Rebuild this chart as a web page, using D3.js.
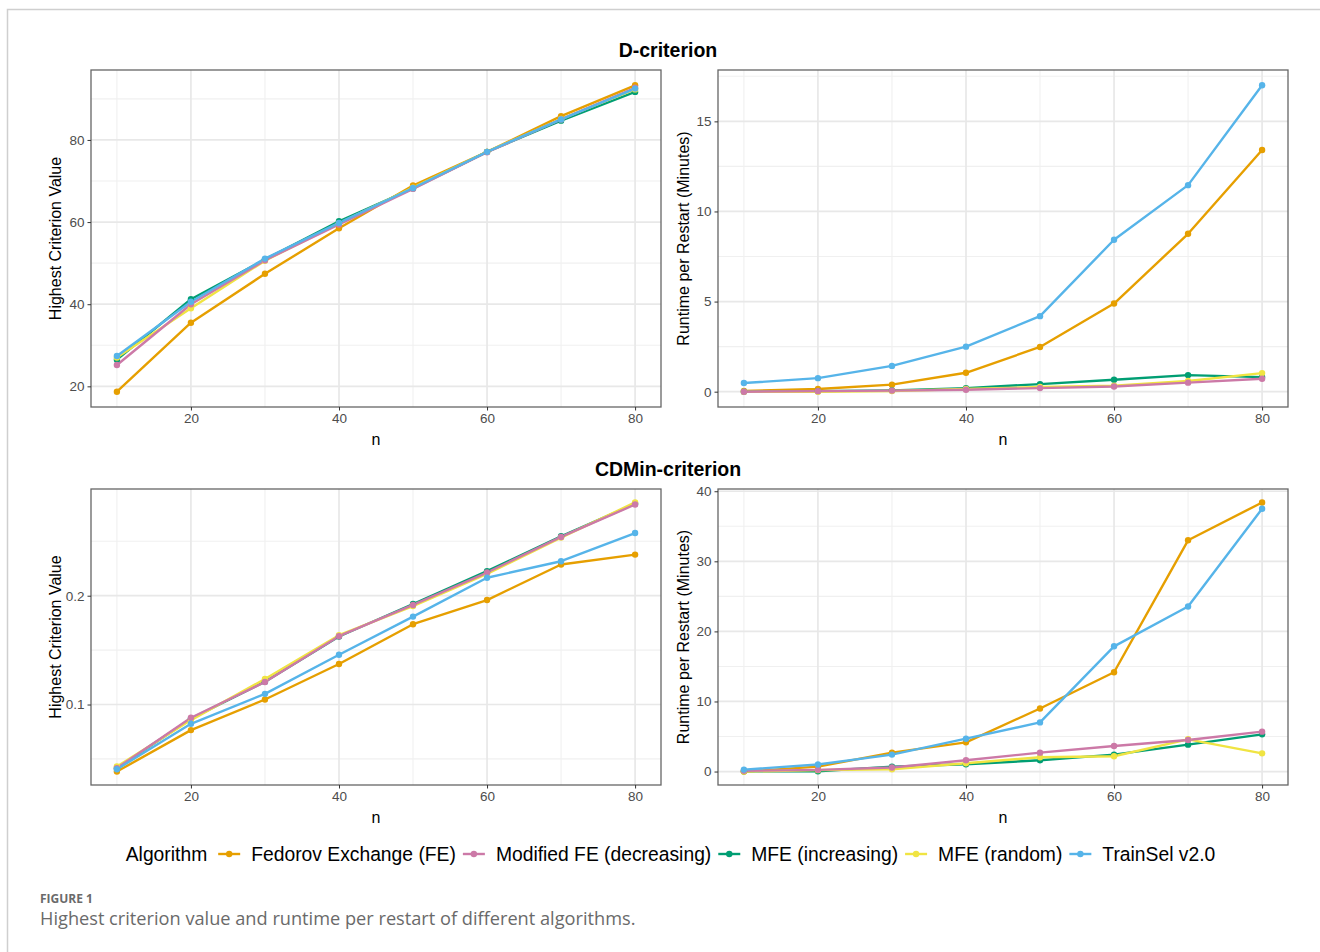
<!DOCTYPE html>
<html>
<head>
<meta charset="utf-8">
<script src="https://cdn.jsdelivr.net/npm/d3@7"></script>
<style>
  html, body { margin: 0; padding: 0; background: #fff; }
  svg { display: block; }
</style>
</head>
<body>
<svg id="chart" width="1320" height="952"></svg>
<script>
// ---------- data ----------
const nValues = [10, 20, 30, 40, 50, 60, 70, 80];
const algorithms = ["Fedorov Exchange (FE)", "Modified FE (decreasing)", "MFE (increasing)", "MFE (random)", "TrainSel v2.0"];
const algorithmColors = ["#E69F00", "#CC79A7", "#009E73", "#F0E442", "#56B4E9"];
const drawOrder = [0, 2, 3, 1, 4];

// D-criterion: highest criterion value (rows follow `algorithms`)
const dCriterionValue = [
  [18.7, 35.5, 47.4, 58.5, 68.9, 77.1, 85.8, 93.3],
  [25.2, 40.0, 50.7, 59.4, 68.1, 77.0, 85.0, 92.7],
  [26.5, 41.2, 50.9, 60.2, 68.2, 77.1, 84.7, 91.7],
  [27.0, 39.0, 50.6, 59.7, 68.4, 77.1, 85.1, 92.3],
  [27.4, 40.6, 51.1, 59.8, 68.3, 77.1, 85.0, 92.5]
];
// D-criterion: runtime per restart (minutes)
const dRuntime = [
  [0.04, 0.15, 0.39, 1.05, 2.48, 4.89, 8.76, 13.41],
  [0.00, 0.03, 0.06, 0.11, 0.20, 0.29, 0.50, 0.72],
  [0.00, 0.03, 0.07, 0.20, 0.42, 0.66, 0.92, 0.81],
  [0.00, 0.00, 0.04, 0.15, 0.26, 0.33, 0.59, 1.03],
  [0.48, 0.75, 1.43, 2.50, 4.19, 8.43, 11.46, 17.00]
];
// CDMin-criterion: highest criterion value
const cdminCriterionValue = [
  [0.0384, 0.0765, 0.1046, 0.1372, 0.1738, 0.1960, 0.2287, 0.2378],
  [0.0415, 0.0878, 0.1207, 0.1628, 0.1915, 0.2213, 0.2540, 0.2838],
  [0.0415, 0.0870, 0.1210, 0.1625, 0.1924, 0.2226, 0.2546, 0.2845],
  [0.0430, 0.0857, 0.1235, 0.1637, 0.1905, 0.2201, 0.2534, 0.2857],
  [0.0405, 0.0823, 0.1098, 0.1457, 0.1808, 0.2165, 0.2317, 0.2576]
];
// CDMin-criterion: runtime per restart (minutes)
const cdminRuntime = [
  [0.00, 0.70, 2.70, 4.17, 9.00, 14.17, 33.00, 38.40],
  [0.10, 0.24, 0.57, 1.61, 2.70, 3.65, 4.50, 5.69],
  [0.05, 0.05, 0.70, 1.04, 1.61, 2.42, 3.84, 5.31],
  [0.00, 0.20, 0.33, 1.18, 2.04, 2.18, 4.60, 2.60],
  [0.28, 1.00, 2.42, 4.69, 7.01, 17.87, 23.55, 37.50]
];

const xTicks = [20, 40, 60, 80];
const xMinor = [10, 30, 50, 70];
const dValueTicks = [20, 40, 60, 80];
const dValueMinor = [30, 50, 70, 90];
const dRuntimeTicks = [0, 5, 10, 15];
const dRuntimeMinor = [2.5, 7.5, 12.5, 17.5];
const cdValueTicks = [0.1, 0.2];
const cdValueMinor = [0.05, 0.15, 0.25];
const cdRuntimeTicks = [0, 10, 20, 30, 40];
const cdRuntimeMinor = [5, 15, 25, 35];

const panelTitles = ["D-criterion", "CDMin-criterion"];
const yTitleValue = "Highest Criterion Value";
const yTitleRuntime = "Runtime per Restart (Minutes)";
const xTitle = "n";
const legendTitle = "Algorithm";
const figureLabel = "FIGURE 1";
const figureCaption = "Highest criterion value and runtime per restart of different algorithms.";

// ---------- drawing ----------
const svg = d3.select("#chart");
const FONT = "'Liberation Sans', Arial, sans-serif";

// page frame
svg.append("rect").attr("x", 7.5).attr("y", 9.5).attr("width", 1400).attr("height", 1000)
  .attr("fill", "none").attr("stroke", "#cfcfcf").attr("stroke-width", 1.5);

function expand(vals) {
  const mn = d3.min(vals), mx = d3.max(vals);
  const pad = (mx - mn) * 0.05;
  return [mn - pad, mx + pad];
}

const xDomain = expand(nValues);

function panel(opt) {
  const { left, right, top, bottom, data, ticks, minor, fmt, yTitle, yTitleX } = opt;
  const x = d3.scaleLinear().domain(xDomain).range([left, right]);
  const y = d3.scaleLinear().domain(expand(data.flat())).range([bottom, top]);
  const g = svg.append("g");

  // grid
  const grid = g.append("g");
  grid.selectAll(".ym").data(minor.filter(v => y(v) >= top && y(v) <= bottom)).join("line")
    .attr("x1", left).attr("x2", right).attr("y1", d => y(d)).attr("y2", d => y(d))
    .attr("stroke", "#f0f0f0").attr("stroke-width", 1.1);
  grid.selectAll(".xm").data(xMinor).join("line")
    .attr("x1", d => x(d)).attr("x2", d => x(d)).attr("y1", top).attr("y2", bottom)
    .attr("stroke", "#f0f0f0").attr("stroke-width", 1.1);
  grid.selectAll(".yM").data(ticks).join("line")
    .attr("x1", left).attr("x2", right).attr("y1", d => y(d)).attr("y2", d => y(d))
    .attr("stroke", "#e8e8e8").attr("stroke-width", 1.7);
  grid.selectAll(".xM").data(xTicks).join("line")
    .attr("x1", d => x(d)).attr("x2", d => x(d)).attr("y1", top).attr("y2", bottom)
    .attr("stroke", "#e8e8e8").attr("stroke-width", 1.7);

  // lines
  const line = d3.line().x((d, i) => x(nValues[i])).y(d => y(d));
  drawOrder.forEach(k => {
    g.append("path").datum(data[k]).attr("d", line)
      .attr("fill", "none").attr("stroke", algorithmColors[k]).attr("stroke-width", 2.4)
      .attr("stroke-linejoin", "round");
  });
  drawOrder.forEach(k => {
    g.append("g").selectAll("circle").data(data[k]).join("circle")
      .attr("cx", (d, i) => x(nValues[i])).attr("cy", d => y(d)).attr("r", 3.2)
      .attr("fill", algorithmColors[k]);
  });

  // border
  g.append("rect").attr("x", left).attr("y", top).attr("width", right - left).attr("height", bottom - top)
    .attr("fill", "none").attr("stroke", "#666").attr("stroke-width", 1.3);

  // axes
  const xAxis = d3.axisBottom(x).tickValues(xTicks).tickSize(3.5).tickPadding(3);
  const xg = g.append("g").attr("transform", `translate(0,${bottom})`).call(xAxis);
  const yAxis = d3.axisLeft(y).tickValues(ticks).tickFormat(fmt).tickSize(3.5).tickPadding(3);
  const yg = g.append("g").attr("transform", `translate(${left},0)`).call(yAxis);
  [xg, yg].forEach(a => {
    a.select(".domain").remove();
    a.selectAll(".tick line").attr("stroke", "#333").attr("stroke-width", 1);
    a.selectAll(".tick text").attr("fill", "#4d4d4d").style("font-family", FONT).style("font-size", "13.5px");
  });

  // titles
  g.append("text").attr("x", (left + right) / 2).attr("y", bottom + 38)
    .attr("text-anchor", "middle").style("font-family", FONT).style("font-size", "16px")
    .attr("fill", "#000").text(xTitle);
  const cy = (top + bottom) / 2;
  g.append("text").attr("transform", `translate(${yTitleX},${cy}) rotate(-90)`)
    .attr("text-anchor", "middle").style("font-family", FONT).style("font-size", "16px")
    .attr("fill", "#000").text(yTitle);
}

const L = [91, 661], R = [718, 1288];
const T = [70, 407], B = [489, 785];

panel({ left: L[0], right: L[1], top: T[0], bottom: T[1], data: dCriterionValue,
  ticks: dValueTicks, minor: dValueMinor, fmt: d3.format("d"), yTitle: yTitleValue, yTitleX: 61 });
panel({ left: R[0], right: R[1], top: T[0], bottom: T[1], data: dRuntime,
  ticks: dRuntimeTicks, minor: dRuntimeMinor, fmt: d3.format("d"), yTitle: yTitleRuntime, yTitleX: 689 });
panel({ left: L[0], right: L[1], top: B[0], bottom: B[1], data: cdminCriterionValue,
  ticks: cdValueTicks, minor: cdValueMinor, fmt: d3.format(".1f"), yTitle: yTitleValue, yTitleX: 61 });
panel({ left: R[0], right: R[1], top: B[0], bottom: B[1], data: cdminRuntime,
  ticks: cdRuntimeTicks, minor: cdRuntimeMinor, fmt: d3.format("d"), yTitle: yTitleRuntime, yTitleX: 689 });

// panel group titles
[[panelTitles[0], 57], [panelTitles[1], 476]].forEach(([t, yy]) => {
  svg.append("text").attr("x", 668).attr("y", yy).attr("text-anchor", "middle")
    .style("font-family", FONT).style("font-size", "19.5px").style("font-weight", "bold")
    .attr("fill", "#000").text(t);
});

// legend
const lg = svg.append("g");
const legendY = 854;
let cx = 0;
const LFS = "19.3px";
const ttl = lg.append("text").attr("x", 0).attr("y", legendY + 7)
  .style("font-family", FONT).style("font-size", LFS).attr("fill", "#000").text(legendTitle);
cx = ttl.node().getComputedTextLength() + 11;
algorithms.forEach((name, k) => {
  const key = lg.append("g");
  key.append("line").attr("x1", cx).attr("x2", cx + 22).attr("y1", legendY).attr("y2", legendY)
    .attr("stroke", algorithmColors[k]).attr("stroke-width", 2.4);
  key.append("circle").attr("cx", cx + 11).attr("cy", legendY).attr("r", 3.2).attr("fill", algorithmColors[k]);
  cx += 33;
  const t = lg.append("text").attr("x", cx).attr("y", legendY + 7)
    .style("font-family", FONT).style("font-size", LFS).attr("fill", "#000").text(name);
  cx += t.node().getComputedTextLength() + 7;
});
const totalW = cx - 7;
lg.attr("transform", `translate(${670.5 - totalW / 2},0)`);

// caption
svg.append("text").attr("x", 40).attr("y", 903)
  .style("font-family", "'Open Sans', sans-serif").style("font-size", "12px").style("font-weight", "bold")
  .attr("fill", "#6a6a6a").text(figureLabel);
svg.append("text").attr("x", 40).attr("y", 925)
  .style("font-family", "'Open Sans', sans-serif").style("font-size", "18.2px")
  .attr("fill", "#6a6a6a").text(figureCaption);
</script>
</body>
</html>
